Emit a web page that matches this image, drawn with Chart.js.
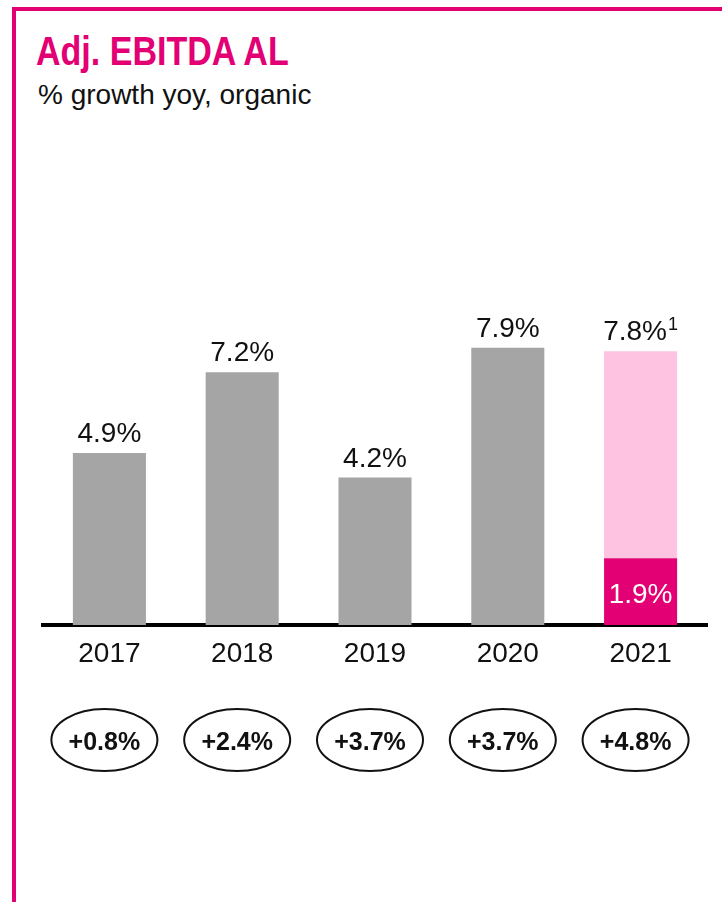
<!DOCTYPE html>
<html>
<head>
<meta charset="utf-8">
<script src="https://cdn.jsdelivr.net/npm/chart.js@4"></script>
<style>
  body { margin: 0; background: #fff; }
  #page { position: relative; width: 722px; height: 902px; overflow: hidden; }
  #frame { position: absolute; left: 12px; top: 7px; right: 0; bottom: 0;
           border-left: 4px solid #e20074; border-top: 4px solid #e20074; }
  #title { position: absolute; left: 36px; top: 31px; font: bold 41px "Liberation Sans", sans-serif;
           line-height: 41px; color: #e20074; white-space: nowrap;
           transform: scaleX(0.83); transform-origin: left top; }
  #subtitle { position: absolute; left: 38px; top: 81px; font: 28px "Liberation Sans", sans-serif;
              line-height: 28px; color: #111; white-space: nowrap; }
  #wrap { position: absolute; left: 0; top: 0; width: 722px; height: 902px; }
</style>
</head>
<body>
<div id="page">
  <div id="frame"></div>
  <div id="title">Adj. EBITDA AL</div>
  <div id="subtitle">% growth yoy, organic</div>
  <div id="wrap"><canvas id="ebitda"></canvas></div>
</div>
<script>
// data
var years = ['2017', '2018', '2019', '2020', '2021'];
var totalGrowth = [4.9, 7.2, 4.2, 7.9, 7.8];
var highlightPart = [null, null, null, null, 1.9];   // "of which" part in 2021
var yoyChange = [0.8, 2.4, 3.7, 3.7, 4.8];
var footnoteMark = [null, null, null, null, '1'];

var grey = '#a5a5a5';
var magenta = '#e20074';
var lightPink = '#fdc3e1';
var labelFont = '"Liberation Sans", Arial, sans-serif';

// bottom segment: grey bars, or the magenta part where a highlight exists
var baseValues = totalGrowth.map(function (v, i) { return highlightPart[i] != null ? highlightPart[i] : v; });
var restValues = totalGrowth.map(function (v, i) { return highlightPart[i] != null ? +(v - highlightPart[i]).toFixed(1) : 0; });
var baseColors = highlightPart.map(function (h) { return h != null ? magenta : grey; });

function pct(v) { return v.toFixed(1) + '%'; }

var labelsPlugin = {
  id: 'valueLabels',
  afterDatasetsDraw: function (chart) {
    var ctx = chart.ctx;
    var x = chart.scales.x, y = chart.scales.y;
    ctx.save();
    years.forEach(function (yr, i) {
      var cx = x.getPixelForValue(i);
      var top = y.getPixelForValue(totalGrowth[i]);
      // total above the bar
      ctx.fillStyle = '#111';
      ctx.textBaseline = 'alphabetic';
      ctx.font = '28px ' + labelFont;
      var main = pct(totalGrowth[i]);
      var mw = ctx.measureText(main).width;
      var sw = 0;
      if (footnoteMark[i]) {
        ctx.font = '18px ' + labelFont;
        sw = ctx.measureText(footnoteMark[i]).width + 1;
      }
      var start = cx - (mw + sw) / 2;
      ctx.font = '28px ' + labelFont;
      ctx.textAlign = 'left';
      ctx.fillText(main, start, top - 11);
      if (footnoteMark[i]) {
        ctx.font = '18px ' + labelFont;
        ctx.fillText(footnoteMark[i], start + mw + 1, top - 21);
      }
      // highlighted part inside the bar
      if (highlightPart[i] != null) {
        var hTop = y.getPixelForValue(highlightPart[i]);
        var hBot = y.getPixelForValue(0);
        ctx.font = '28px ' + labelFont;
        ctx.fillStyle = '#fff';
        ctx.textAlign = 'center';
        ctx.fillText(pct(highlightPart[i]), cx, (hTop + hBot) / 2 + 11);
      }
      // yoy bubble
      var ex = cx - 5, ey = 740;
      ctx.beginPath();
      ctx.ellipse(ex, ey, 53, 31, 0, 0, Math.PI * 2);
      ctx.lineWidth = 2;
      ctx.strokeStyle = '#111';
      ctx.stroke();
      ctx.font = 'bold 25px ' + labelFont;
      ctx.fillStyle = '#111';
      ctx.textAlign = 'center';
      ctx.fillText('+' + yoyChange[i].toFixed(1) + '%', ex, ey + 10);
    });
    ctx.restore();
  }
};

var chart = new Chart(document.getElementById('ebitda'), {
  type: 'bar',
  data: {
    labels: years,
    datasets: [{
      data: baseValues,
      backgroundColor: baseColors,
      barPercentage: 0.55,
      categoryPercentage: 1
    }, {
      data: restValues,
      backgroundColor: lightPink,
      barPercentage: 0.55,
      categoryPercentage: 1
    }]
  },
  options: {
    responsive: true,
    maintainAspectRatio: false,
    animation: false,
    layout: { padding: { left: 43, right: 15, top: 274, bottom: 227 } },
    plugins: { legend: { display: false }, tooltip: { enabled: false } },
    scales: {
      x: {
        stacked: true,
        grid: { display: false, drawTicks: false },
        border: { display: true, color: '#000', width: 4 },
        ticks: { color: '#111', font: { family: labelFont, size: 28 }, padding: 12 },
        afterFit: function (s) { s.height = 50; }
      },
      y: {
        stacked: true,
        display: false,
        min: 0,
        max: 10
      }
    }
  },
  plugins: [labelsPlugin]
});
</script>
</body>
</html>
